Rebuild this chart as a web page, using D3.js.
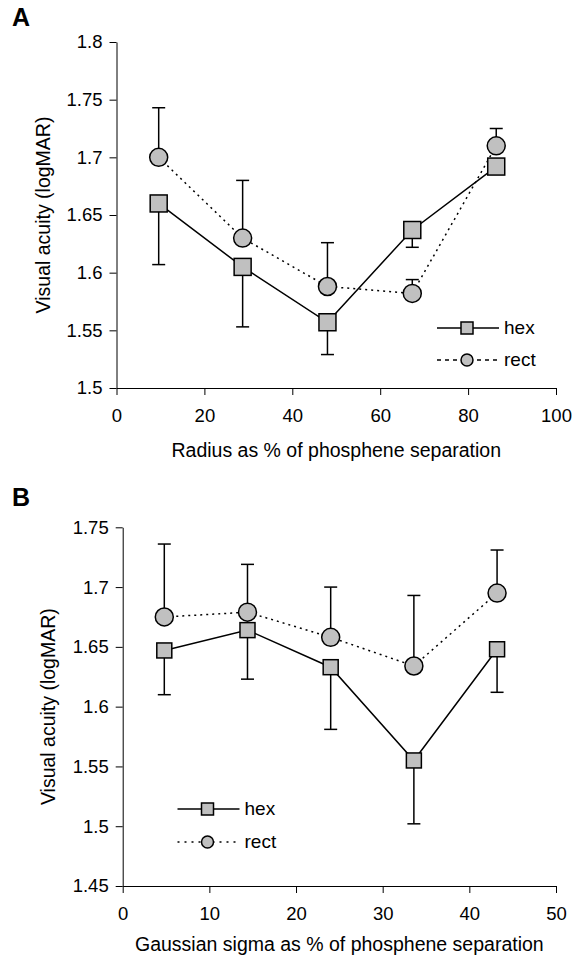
<!DOCTYPE html>
<html>
<head>
<meta charset="utf-8">
<script src="https://cdn.jsdelivr.net/npm/d3@7"></script>
<style>
  body { margin: 0; background: #fff; }
  svg { display: block; }
  text { font-family: "Liberation Sans", Arial, sans-serif; fill: #000; }
</style>
</head>
<body>
<svg id="chart" width="573" height="957"></svg>
<script>
// panel A data: radius as % of phosphene separation
let radiusX = [9.6, 28.7, 48.0, 67.3, 86.4];
let hexA = [1.660, 1.605, 1.557, 1.637, 1.692];
let hexALow = [1.607, 1.553, 1.529, 1.622, 1.688];
let rectA = [1.700, 1.630, 1.588, 1.582, 1.710];
let rectAHigh = [1.743, 1.680, 1.626, 1.594, 1.725];
let xTicksA = [0, 20, 40, 60, 80, 100];
let yTicksA = ["1.5", "1.55", "1.6", "1.65", "1.7", "1.75", "1.8"];

// panel B data: gaussian sigma as % of phosphene separation
let sigmaX = [4.8, 14.4, 24.0, 33.6, 43.2];
let hexB = [1.647, 1.664, 1.633, 1.555, 1.648];
let hexBLow = [1.610, 1.623, 1.581, 1.502, 1.612];
let rectB = [1.675, 1.679, 1.658, 1.634, 1.695];
let rectBHigh = [1.736, 1.719, 1.700, 1.693, 1.731];
let xTicksB = [0, 10, 20, 30, 40, 50];
let yTicksB = ["1.45", "1.5", "1.55", "1.6", "1.65", "1.7", "1.75"];

let seriesNames = ["hex", "rect"];

let fill = "#c0c0c0";
let svg = d3.select("#chart");

function drawPanel(p) {
    let g = svg.append("g");
    let x = d3.scaleLinear().domain(p.xDomain).range(p.xRange);
    let y = d3.scaleLinear().domain(p.yDomain).range(p.yRange);

    // axes
    let xAxis = d3.axisBottom(x).tickValues(p.xTicks).tickSize(7).tickPadding(14).tickSizeOuter(0);
    let yAxis = d3.axisLeft(y).tickValues(p.yTicks.map(Number))
        .tickFormat((d, i) => p.yTicks[i]).tickSize(7).tickPadding(7).tickSizeOuter(0);

    let gx = g.append("g").attr("transform", "translate(0," + p.yRange[0] + ")").call(xAxis);
    let gy = g.append("g").attr("transform", "translate(" + p.xRange[0] + ",0)").call(yAxis);
    [gx, gy].forEach(a => {
        a.selectAll("path,line").attr("stroke", "#000").attr("stroke-width", 1);
        a.selectAll("text").style("font-size", "18.5px").attr("fill", "#000");
    });

    // titles
    g.append("text")
        .attr("x", (p.xRange[0] + p.xRange[1]) / 2)
        .attr("y", p.xTitleY)
        .attr("text-anchor", "middle")
        .style("font-size", "19.5px")
        .text(p.xTitle);
    g.append("text")
        .attr("transform", "translate(" + p.yTitleX + "," + (p.yRange[0] + p.yRange[1]) / 2 + ") rotate(-90)")
        .attr("text-anchor", "middle")
        .style("font-size", "19.5px")
        .text("Visual acuity (logMAR)");
    g.append("text")
        .attr("x", p.letterX).attr("y", p.letterY)
        .style("font-size", "25px").style("font-weight", "bold")
        .text(p.letter);

    // error bars: hex goes down, rect goes up
    let bars = [[p.hex, p.hexErr], [p.rect, p.rectErr]];
    bars.forEach(b => {
        p.xs.forEach((xv, i) => {
            g.append("line")
                .attr("x1", x(xv)).attr("x2", x(xv))
                .attr("y1", y(b[0][i])).attr("y2", y(b[1][i]))
                .attr("stroke", "#000").attr("stroke-width", 1.5);
            g.append("line")
                .attr("x1", x(xv) - 6.5).attr("x2", x(xv) + 6.5)
                .attr("y1", y(b[1][i])).attr("y2", y(b[1][i]))
                .attr("stroke", "#000").attr("stroke-width", 1.5);
        });
    });

    // connecting lines
    let line = d3.line().x(d => x(d[0])).y(d => y(d[1]));
    g.append("path")
        .attr("d", line(p.xs.map((v, i) => [v, p.rect[i]])))
        .attr("fill", "none").attr("stroke", "#000").attr("stroke-width", 1.5)
        .attr("stroke-dasharray", "2,4");
    g.append("path")
        .attr("d", line(p.xs.map((v, i) => [v, p.hex[i]])))
        .attr("fill", "none").attr("stroke", "#000").attr("stroke-width", 1.5);

    // markers
    p.xs.forEach((xv, i) => {
        g.append("circle")
            .attr("cx", x(xv)).attr("cy", y(p.rect[i])).attr("r", p.circR)
            .attr("fill", fill).attr("stroke", "#000").attr("stroke-width", 1.5);
    });
    p.xs.forEach((xv, i) => {
        g.append("rect")
            .attr("x", x(xv) - p.sq / 2).attr("y", y(p.hex[i]) - p.sq / 2)
            .attr("width", p.sq).attr("height", p.sq)
            .attr("fill", fill).attr("stroke", "#000").attr("stroke-width", 1.5);
    });

    // legend
    seriesNames.forEach((name, i) => {
        let ly = p.legY + i * p.legGap;
        g.append("line")
            .attr("x1", p.legX).attr("x2", p.legX + 62)
            .attr("y1", ly).attr("y2", ly)
            .attr("stroke", "#000").attr("stroke-width", 1.5)
            .attr("stroke-dasharray", i === 0 ? null : p.legDash);
        if (i === 0) {
            g.append("rect")
                .attr("x", p.legX + 30 - 6).attr("y", ly - 6)
                .attr("width", 12).attr("height", 12)
                .attr("fill", fill).attr("stroke", "#000").attr("stroke-width", 1.5);
        } else {
            g.append("circle")
                .attr("cx", p.legX + 30).attr("cy", ly).attr("r", 6)
                .attr("fill", fill).attr("stroke", "#000").attr("stroke-width", 1.5);
        }
        g.append("text")
            .attr("x", p.legX + 67).attr("y", ly + 6)
            .style("font-size", "19px")
            .text(name);
    });
}

drawPanel({
    letter: "A", letterX: 12, letterY: 26,
    xDomain: [0, 100], xRange: [116.5, 556],
    yDomain: [1.5, 1.8], yRange: [388, 42],
    xTicks: xTicksA, yTicks: yTicksA,
    xs: radiusX, hex: hexA, hexErr: hexALow, rect: rectA, rectErr: rectAHigh,
    xTitle: "Radius as % of phosphene separation", xTitleY: 457,
    yTitleX: 49.5, sq: 17, circR: 9,
    legX: 437, legY: 328, legGap: 32, legDash: "4,4"
});

drawPanel({
    letter: "B", letterX: 12, letterY: 506,
    xDomain: [0, 50], xRange: [122.7, 556],
    yDomain: [1.45, 1.75], yRange: [886, 527.3],
    xTicks: xTicksB, yTicks: yTicksB,
    xs: sigmaX, hex: hexB, hexErr: hexBLow, rect: rectB, rectErr: rectBHigh,
    xTitle: "Gaussian sigma as % of phosphene separation", xTitleY: 951,
    yTitleX: 55, sq: 15, circR: 9,
    legX: 177.5, legY: 809, legGap: 33, legDash: "2,5"
});
</script>
</body>
</html>
